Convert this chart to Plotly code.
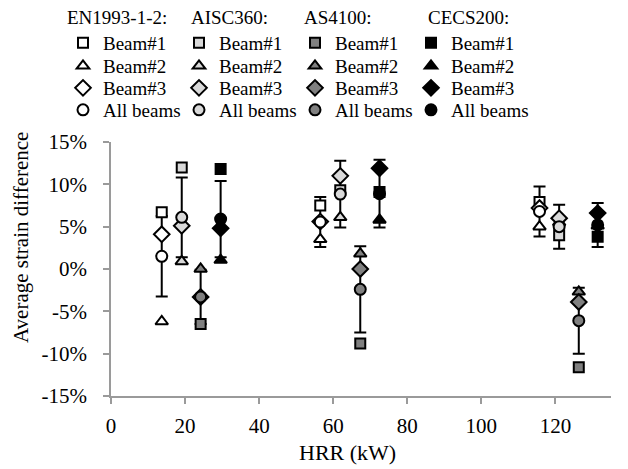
import plotly.graph_objects as go

# HRR positions (kW) of each code's points in the three fire tests
hrr_en = [13.7, 56.5, 115.7]
hrr_aisc = [19.1, 61.9, 121.0]
hrr_as = [24.2, 67.3, 126.3]
hrr_cecs = [29.6, 72.5, 131.4]

# average strain difference (%)
en_b1 = [6.7, 7.5, 7.9]
en_b2 = [-6.2, 3.5, 5.0]
en_b3 = [4.1, 5.6, 7.2]
en_all = [1.5, 5.55, 6.8]
en_err = [4.75, 2.95, 2.95]

aisc_b1 = [12.0, 9.3, 4.0]
aisc_b2 = [0.9, 6.1, 5.5]
aisc_b3 = [5.1, 11.0, 6.0]
aisc_all = [6.1, 8.85, 5.0]
aisc_err = [4.7, 3.95, 2.6]

as_b1 = [-6.5, -8.8, -11.6]
as_b2 = [0.0, 1.8, -2.7]
as_b3 = [-3.3, 0.0, -3.9]
as_all = [-3.3, -2.4, -6.1]
as_err = [3.2, 5.1, 3.9]

cecs_b1 = [11.8, 9.1, 3.8]
cecs_b2 = [1.05, 5.8, 5.1]
cecs_b3 = [4.8, 11.9, 6.6]
cecs_all = [5.9, 8.9, 5.2]
cecs_err = [4.5, 4.0, 2.6]

codes = ["EN1993-1-2:", "AISC360:", "AS4100:", "CECS200:"]
row_names = ["Beam#1", "Beam#2", "Beam#3", "All beams"]
x_ticks = [0, 20, 40, 60, 80, 100, 120]
y_ticks = [-15, -10, -5, 0, 5, 10, 15]
y_ticktext = ["-15%", "-10%", "-5%", "0%", "5%", "10%", "15%"]

FONT = "Liberation Serif, Times New Roman, DejaVu Serif, serif"
fills = ["#ffffff", "#d9d9d9", "#808080", "#000000"]
symbols = ["square", "triangle-up", "diamond", "circle"]
sizes = [10, 11, 12, 11]

xs = [hrr_en, hrr_aisc, hrr_as, hrr_cecs]
series = [
    [en_b1, en_b2, en_b3, en_all],
    [aisc_b1, aisc_b2, aisc_b3, aisc_all],
    [as_b1, as_b2, as_b3, as_all],
    [cecs_b1, cecs_b2, cecs_b3, cecs_all],
]
errs = [en_err, aisc_err, as_err, cecs_err]

fig = go.Figure()

# error bars first so that every marker sits on top of them
for i in range(4):
    fig.add_trace(go.Scatter(
        x=xs[i], y=series[i][3], mode="markers", showlegend=False, hoverinfo="skip",
        marker=dict(size=1, color="rgba(0,0,0,0)"),
        error_y=dict(type="data", array=errs[i], color="black", thickness=2, width=6),
    ))

legends = ["legend", "legend2", "legend3", "legend4"]
for r in range(4):
    for i in range(4):
        fig.add_trace(go.Scatter(
            x=xs[i], y=series[i][r], mode="markers", name=row_names[r], legend=legends[r],
            legendwidth=95 if i == 3 else None,
            marker=dict(symbol=symbols[r], size=sizes[r], color=fills[i],
                        line=dict(color="black", width=2)),
        ))

axis_col = "#9a9a9a"
fig.update_xaxes(range=[0, 135], tickvals=x_ticks, showgrid=False, zeroline=False,
                 showline=True, linecolor=axis_col, linewidth=1.5, ticks="outside", ticklen=6,
                 tickcolor=axis_col, tickwidth=1.5, ticklabelstandoff=4)
fig.update_yaxes(range=[-15, 15], tickvals=y_ticks, ticktext=y_ticktext, showgrid=False, zeroline=False,
                 showline=True, linecolor=axis_col, linewidth=1.5, ticks="outside", ticklen=6,
                 tickcolor=axis_col, tickwidth=1.5, ticklabelstandoff=12)

leg_style = dict(orientation="h", xanchor="left", yanchor="middle", entrywidth=71,
                 entrywidthmode="pixels", bgcolor="rgba(0,0,0,0)", font=dict(family=FONT, size=19, color="black"))
row_y = [43, 66, 88, 110]
layout_legs = {}
for r in range(4):
    layout_legs[legends[r]] = dict(leg_style, x=(63 - 111) / 500, y=(396 - row_y[r]) / 254)

title_x = [65, 189, 302, 426]
annotations = [
    dict(text=codes[i], xref="paper", yref="paper", x=(title_x[i] - 111) / 500, y=(396 - 17) / 254,
         xanchor="left", yanchor="middle", showarrow=False, font=dict(family=FONT, size=19, color="black"))
    for i in range(4)
]
annotations.append(dict(text="HRR (kW)", xref="paper", yref="paper", x=(347 - 111) / 500, y=(396 - 452) / 254,
                        xanchor="center", yanchor="middle", showarrow=False,
                        font=dict(family=FONT, size=22, color="black")))
annotations.append(dict(text="Average strain difference", xref="paper", yref="paper", x=(21 - 111) / 500,
                        y=(396 - 238) / 254, xanchor="center", yanchor="middle", textangle=-90,
                        showarrow=False, font=dict(family=FONT, size=21, color="black")))

# the page puts the figure 8px in from the top-left corner, so the margins are shifted by that much
fig.update_layout(
    width=628, height=469, margin=dict(l=103, r=25, t=134, b=81, autoexpand=False),
    paper_bgcolor="white", plot_bgcolor="white",
    font=dict(family=FONT, size=21, color="black"),
    yaxis2=dict(overlaying="y", anchor="x", range=[-15, 15], tickvals=y_ticks, showticklabels=False,
                ticks="inside", ticklen=6, tickcolor=axis_col, tickwidth=1.5, showgrid=False,
                zeroline=False, showline=False),
    annotations=annotations,
    **layout_legs,
)

fig.write_html("out.html")
